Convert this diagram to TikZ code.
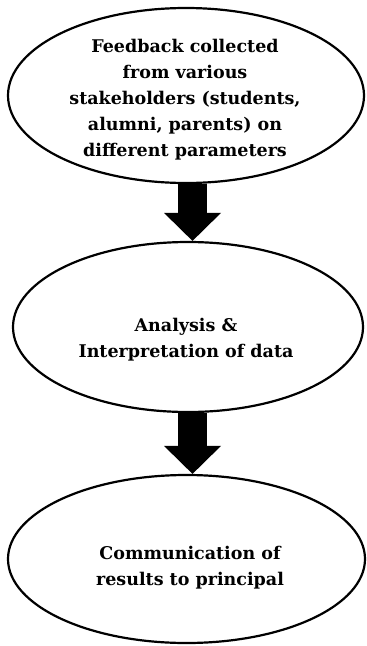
\documentclass[tikz,border=0pt]{standalone}
\usepackage{fontspec}
\setmainfont{DejaVu Serif}
\usetikzlibrary{shapes.geometric,arrows.meta}
\tikzset{
  stage/.style={ellipse, draw=black, line width=2.2pt, inner sep=0pt},
  stagetext/.style={align=center, font=\fontsize{17.5}{26}\selectfont\bfseries, inner sep=0pt},
  bigarrow/.style={line width=29pt, -{Triangle[width=57pt,length=28pt,line width=0pt]}}
}
\begin{document}
\begin{tikzpicture}[x=1pt,y=-1pt]
\useasboundingbox (0,0) rectangle (367,646);
\node[stage, minimum width=356pt, minimum height=175pt] (e1) at (186,95.5) {};
\node[stage, minimum width=350pt, minimum height=170pt] (e2) at (188,327) {};
\node[stage, minimum width=357pt, minimum height=168pt] (e3) at (186.5,559) {};
\node[stagetext] (t1) at (185,100) {Feedback collected\\from various\\stakeholders (students,\\alumni, parents) on\\different parameters};
\node[stagetext] (t2) at (186,340) {Analysis \&\\Interpretation of data};
\node[stagetext] (t3) at (190,568) {Communication of\\results to principal};
\draw[bigarrow] ([xshift=6.5pt]e1.south) -- ([xshift=4.5pt]e2.north);
\draw[bigarrow] ([xshift=4.5pt]e2.south) -- ([xshift=6pt]e3.north);
\end{tikzpicture}
\end{document}
